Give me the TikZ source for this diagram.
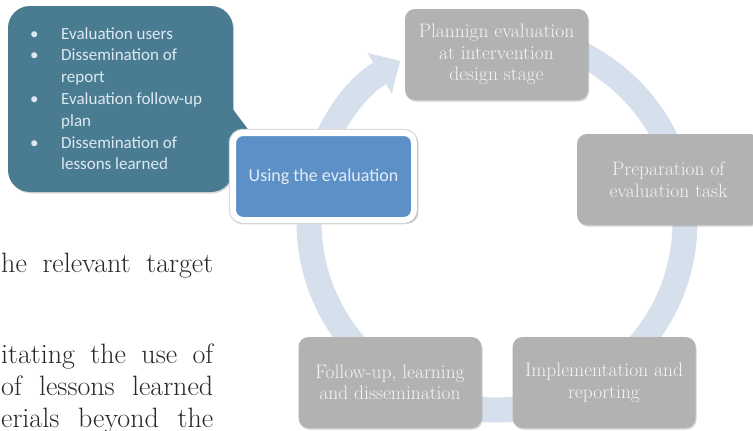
\documentclass[tikz,border=0pt]{standalone}
\usepackage{fontspec}
\newfontfamily\calibfont{Carlito}
\usetikzlibrary{arrows.meta,shadows}
\definecolor{ringblue}{RGB}{214,224,237}
\definecolor{stagegray}{RGB}{178,178,178}
\definecolor{stagetext}{RGB}{244,244,244}
\definecolor{usingblue}{RGB}{92,144,199}
\definecolor{usingtext}{RGB}{228,236,246}
\definecolor{calloutteal}{RGB}{74,124,145}
\definecolor{callouttext}{RGB}{222,232,242}
\definecolor{bodytext}{RGB}{40,40,40}
\tikzset{
	stagebox/.style={fill=stagegray, rounded corners=10pt, minimum width=183pt, minimum height=91pt, inner sep=0pt, align=center, text=stagetext, font=\fontsize{19.5}{21.5}\selectfont, drop shadow={shadow xshift=1pt, shadow yshift=-1.5pt, opacity=0.35}},
	usingbox/.style={fill=usingblue, draw=white, line width=6pt, rounded corners=10pt, minimum width=181pt, minimum height=87pt, inner sep=0pt, text=usingtext, font=\calibfont\fontsize{18}{21}\selectfont, preaction={draw=black!14, line width=8.5pt}, drop shadow={shadow xshift=1.5pt, shadow yshift=-2pt, shadow scale=1.03, opacity=0.3}},
	bodyline/.style={anchor=base west, inner sep=0pt, text=bodytext, font=\fontsize{28}{32}\selectfont}
}
\def\bodyrow(#1,#2)#3#4{\node[bodyline] (#3) at (#1,#2) {\makebox[\dimexpr213pt-#1pt\relax][s]{#4}};}
\def\bul{\makebox[31pt][l]{\textbullet}}

\begin{document}
\begin{tikzpicture}[x=1pt,y=-1pt]
			%%%%% START %%%%%
			
			\useasboundingbox[fill=white] (0, 0) rectangle (753, 431);
			
			% cycle ring
			\draw[line width=25pt, color=ringblue, -{Triangle[width=46pt,length=24pt]}] (497, 222) ++(-90:188) arc[start angle=-90, end angle=239, radius=188];
			
			% callout
			\fill[calloutteal, drop shadow={shadow xshift=1pt, shadow yshift=-1.5pt, opacity=0.3}] (8, 6) [rounded corners=22pt] -- (233, 6) -- (233, 192) -- (8, 192) -- cycle;
			\fill[calloutteal] (232, 108) -- (256, 140) -- (214, 186) -- cycle;
			\node[anchor=north west, inner sep=0pt, align=left, text=callouttext, font=\calibfont\fontsize{17}{21.8}\selectfont] (bullets) at (30, 27) {\bul Evaluation users\\ \bul Dissemination of\\ \hspace*{31pt}report\\ \bul Evaluation follow-up\\ \hspace*{31pt}plan\\ \bul Dissemination of\\ \hspace*{31pt}lessons learned};
			
			% stages
			\node[stagebox] (plan) at (496.5, 54.5) {Plannign evaluation\\at intervention\\design stage};
			\node[stagebox] (prep) at (668.5, 179.5) {Preparation of\\evaluation task};
			\node[stagebox] (impl) at (604, 382.5) {Implementation and\\reporting};
			\node[stagebox] (follow) at (390, 382.5) {Follow-up, learning\\and dissemination};
			\node[usingbox] (using) at (323.5, 176.5) {Using the evaluation};
			
			% page text
			\bodyrow(1,272){line1}{he relevant target}
			\bodyrow(1,363){line2}{itating the use of}
			\bodyrow(1,395){line3}{of lessons learned}
			\bodyrow(1,427){line4}{erials beyond the}
			
			%%%%% END %%%%%
		\end{tikzpicture}
\end{document}
